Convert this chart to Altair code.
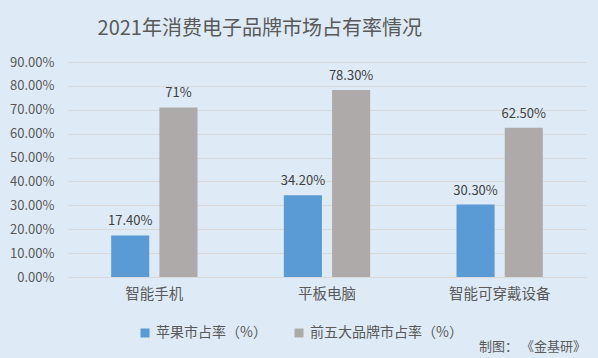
import altair as alt
import pandas as pd

categories = ["智能手机", "平板电脑", "智能可穿戴设备"]
series = ["苹果市占率（%）", "前五大品牌市占率（%）"]
apple = [0.174, 0.342, 0.303]
top5 = [0.71, 0.783, 0.625]
apple_labels = ["17.40%", "34.20%", "30.30%"]
top5_labels = ["71%", "78.30%", "62.50%"]
y_ticks = [0, 0.1, 0.2, 0.3, 0.4, 0.5, 0.6, 0.7, 0.8, 0.9]
title_text = "2021年消费电子品牌市场占有率情况"
source_text = "制图： 《金基研》"

rows = []
for c, v, l in zip(categories, apple, apple_labels):
    rows.append({"cat": c, "series": series[0], "value": v, "label": l})
for c, v, l in zip(categories, top5, top5_labels):
    rows.append({"cat": c, "series": series[1], "value": v, "label": l})
df = pd.DataFrame(rows)

FONT = "Noto Sans CJK SC"
TXT = "#595959"

x = alt.X("cat:N", sort=categories, title=None,
          scale=alt.Scale(paddingInner=0.5, paddingOuter=0.25),
          axis=alt.Axis(labelAngle=0, labelFontSize=14.5, labelColor=TXT,
                        labelPadding=10, ticks=False, domainColor="#D9D9D9",
                        labelFont=FONT))
xo = alt.XOffset("series:N", sort=series,
                 scale=alt.Scale(paddingInner=0.21, paddingOuter=0))
y = alt.Y("value:Q", title=None,
          scale=alt.Scale(domain=[0, 0.9], nice=False),
          axis=alt.Axis(values=y_ticks, format=".2%", labelFontSize=13,
                        labelColor=TXT, ticks=False, domain=False,
                        gridColor="#D9D9D9", labelPadding=14, labelFont=FONT))
color = alt.Color("series:N", sort=series,
                  scale=alt.Scale(domain=series, range=["#5B9BD5", "#AEAAAA"]),
                  legend=alt.Legend(title=None, orient="none", direction="horizontal",
                                    legendX=70, legendY=264, symbolType="square",
                                    symbolSize=81, symbolStrokeWidth=0,
                                    labelFontSize=14, labelColor=TXT, labelFont=FONT,
                                    columnPadding=25, labelOffset=4))

base = alt.Chart(df)
bars = base.mark_bar().encode(x=x, xOffset=xo, y=y, color=color)
labels = base.mark_text(dy=-14, fontSize=13, color="#404040", font=FONT).encode(
    x=x, xOffset=xo, y=y, text="label:N")

src = alt.Chart(pd.DataFrame({"t": [source_text]})).mark_text(
    align="right", baseline="middle", fontSize=13, color=TXT, font=FONT
).encode(x=alt.value(518), y=alt.value(285), text="t:N")

chart = alt.layer(bars, labels, src).properties(
    width=518, height=215,
    title=alt.TitleParams(title_text, anchor="start", dx=88, offset=17,
                          fontSize=20, font=FONT, fontWeight="normal", color=TXT),
    autosize=alt.AutoSizeParams(type="none"),
    padding={"left": 68, "top": 62, "right": 12, "bottom": 81},
    background="#DEEBF7",
).configure_view(stroke=None)

chart.save("out.html", embed_options={"renderer": "svg", "actions": False})
